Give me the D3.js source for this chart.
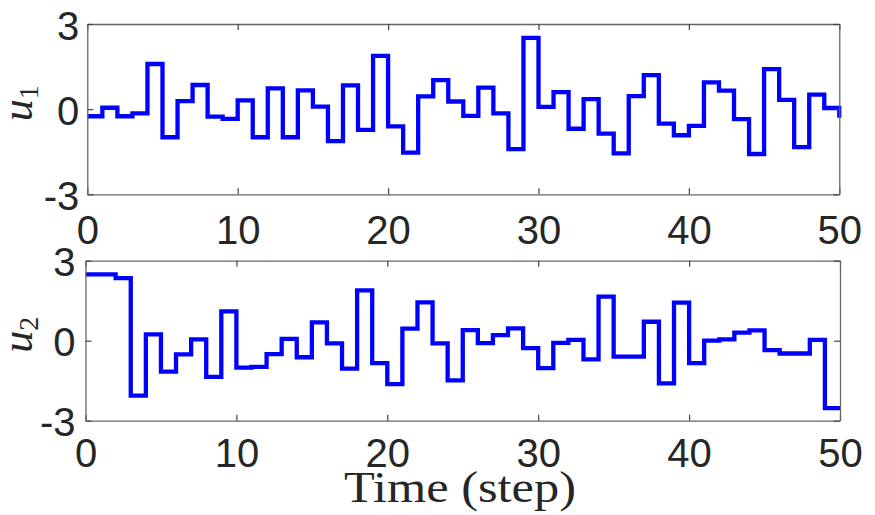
<!DOCTYPE html>
<html>
<head>
<meta charset="utf-8">
<script src="https://cdn.jsdelivr.net/npm/d3@7"></script>
<style>
  body { margin: 0; background: #fff; }
  .tick text { font-family: "Liberation Sans", Arial, sans-serif; font-size: 40px; fill: #262626; }
</style>
</head>
<body>
<div id="chart"></div>
<script>
var width = 875, height = 515

// control inputs, held over each step (stairs), steps 0..50
var steps = d3.range(0, 51)
var u1 = [-0.25, 0.05, -0.25, -0.15, 1.59, -0.99, 0.28, 0.85, -0.26, -0.34,
          0.31, -0.99, 0.73, -0.99, 0.66, 0.09, -1.13, 0.84, -0.73, 1.88,
          -0.61, -1.53, 0.45, 1.02, 0.27, -0.24, 0.76, -0.15, -1.41, 2.51,
          0.08, 0.60, -0.69, 0.35, -0.86, -1.56, 0.46, 1.20, -0.51, -0.92,
          -0.59, 0.94, 0.65, -0.35, -1.58, 1.41, 0.33, -1.34, 0.51, 0.04,
          -0.30]
var u2 = [2.49, 2.49, 2.35, -2.06, 0.24, -1.16, -0.51, 0.05, -1.36, 1.10,
          -1.01, -0.98, -0.50, 0.07, -0.62, 0.69, -0.10, -1.05, 1.89, -0.84,
          -1.63, 0.45, 1.44, -0.10, -1.49, 0.40, -0.09, 0.21, 0.46, -0.28,
          -1.03, -0.08, 0.03, -0.70, 1.65, -0.60, -0.60, 0.71, -1.60, 1.43,
          -0.84, 0.00, 0.05, 0.30, 0.39, -0.35, -0.48, -0.48, 0.03, -2.53,
          -2.53]
var xTicks = [0, 10, 20, 30, 40, 50]
var yTicks = [-3, 0, 3]

var svg = d3.select("#chart")
  .append("svg")
    .attr("width", width)
    .attr("height", height)

var panels = [
  { data: u1, sub: "1", x0: 87.3, x1: 839.3, yTop: 24, yBot: 194.3, xPad: 21, yPad: 8 },
  { data: u2, sub: "2", x0: 85.5, x1: 840, yTop: 260.7, yBot: 420.7, xPad: 18, yPad: 10 }
]

var fmt = function(d) { return String(d) }   // plain hyphen, like the reference

panels.forEach(function(p) {
  var x = d3.scaleLinear().domain([0, 50]).range([p.x0, p.x1])
  var y = d3.scaleLinear().domain([-3, 3]).range([p.yBot, p.yTop])

  var g = svg.append("g")

  // the series
  var line = d3.line()
    .x(function(d) { return x(d[0]) })
    .y(function(d) { return y(d[1]) })
    .curve(d3.curveStepAfter)

  g.append("path")
    .datum(steps.map(function(k) { return [k, p.data[k]] }))
    .attr("d", line)
    .attr("fill", "none")
    .attr("stroke", "#0000ff")
    .attr("stroke-width", 4.3)

  // axes, with ticks on all four sides
  g.append("g")
    .attr("transform", `translate(0,${p.yBot})`)
    .call(d3.axisBottom(x).tickValues(xTicks).tickSizeInner(-6).tickSizeOuter(0).tickPadding(p.xPad).tickFormat(fmt))
  g.append("g")
    .attr("transform", `translate(0,${p.yTop})`)
    .call(d3.axisTop(x).tickValues(xTicks).tickSizeInner(-6).tickSizeOuter(0).tickFormat(""))
  var yAxisL = g.append("g")
    .attr("transform", `translate(${p.x0},0)`)
    .call(d3.axisLeft(y).tickValues(yTicks).tickSizeInner(-6).tickSizeOuter(0).tickPadding(p.yPad).tickFormat(fmt))
  g.append("g")
    .attr("transform", `translate(${p.x1},0)`)
    .call(d3.axisRight(y).tickValues(yTicks).tickSizeInner(-6).tickSizeOuter(0).tickFormat(""))

  yAxisL.selectAll("text").attr("dy", "0.38em")

  g.selectAll(".domain").attr("stroke", "#666").attr("stroke-width", 1.3)
  g.selectAll(".tick line").attr("stroke", "#444").attr("stroke-width", 1.2)

  // y label, u with subscript
  var lab = g.append("text")
    .attr("transform", `translate(32,${(p.yTop + p.yBot) / 2 - 6}) rotate(-90)`)
    .attr("text-anchor", "middle")
    .style("font-family", "'Liberation Serif', 'Times New Roman', serif")
    .style("fill", "#262626")
  lab.append("tspan")
    .style("font-style", "italic")
    .style("font-size", "44px")
    .text("u")
  lab.append("tspan")
    .style("font-size", "28px")
    .attr("dy", 6)
    .text(p.sub)
})

svg.append("text")
  .attr("x", 460)
  .attr("y", 502)
  .attr("text-anchor", "middle")
  .attr("textLength", 232)
  .attr("lengthAdjust", "spacingAndGlyphs")
  .style("font-family", "'Liberation Serif', 'Times New Roman', serif")
  .style("font-size", "44px")
  .style("fill", "#262626")
  .text("Time (step)")
</script>
</body>
</html>
